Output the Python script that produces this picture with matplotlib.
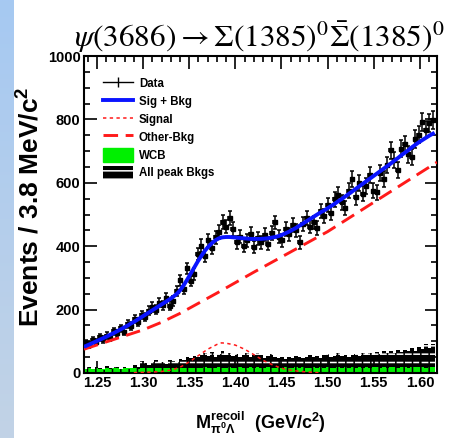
import numpy as np
import matplotlib.pyplot as plt
from matplotlib.lines import Line2D
from matplotlib.patches import Patch
from matplotlib.ticker import MultipleLocator

plt.rcParams['font.family'] = ['Liberation Sans', 'DejaVu Sans']
plt.rcParams['mathtext.fontset'] = 'custom'
plt.rcParams['mathtext.rm'] = 'Liberation Sans:bold'
plt.rcParams['mathtext.it'] = 'Liberation Sans:bold'
plt.rcParams['mathtext.bf'] = 'Liberation Sans:bold'
plt.rcParams['hatch.linewidth'] = 1.1

# ── binning: 100 bins of 3.8 MeV ─────────────────────────────
x_lo, x_hi = 1.236, 1.6185
bin_w = 0.0038
n_bins = 100

# ── data (events per bin) ───────────────────────────────────
data = [95, 88, 104, 98, 112, 106, 118, 110, 132, 125,
        141, 130, 155, 148, 170, 162, 183, 176, 196, 208,
        199, 222, 214, 236, 212, 228, 258, 292, 266, 330,
        290, 312, 375, 402, 368, 418, 395, 428, 445, 476,
        462, 488, 455, 412, 430, 402, 418, 440, 398, 425,
        412, 436, 408, 442, 475, 430, 418, 455, 438, 468,
        450, 412, 470, 488, 462, 475, 458, 510, 495, 530,
        505, 548, 562, 538, 520, 575, 612, 555, 600, 565,
        590, 625, 575, 570, 630, 612, 655, 702, 672, 640,
        708, 722, 690, 682, 738, 752, 792, 768, 788, 798]

# ── total fit (Sig + Bkg) at bin centres ─────────────────────
fit_total = [85, 90, 95, 100, 105, 110, 115, 121, 126, 132,
             138, 144, 150, 157, 163, 170, 177, 184, 191, 198,
             205, 212, 219, 226, 233, 241, 250, 262, 278, 296,
             315, 334, 353, 370, 386, 399, 410, 419, 425, 428,
             429, 429, 428, 427, 426, 425, 424, 423, 423, 423,
             423, 424, 425, 427, 429, 432, 436, 441, 446, 452,
             458, 465, 472, 479, 486, 493, 500, 507, 513, 520,
             527, 534, 542, 549, 557, 565, 573, 581, 589, 597,
             605, 613, 621, 629, 637, 645, 653, 661, 670, 678,
             687, 695, 703, 712, 720, 728, 735, 742, 749, 755]

# ── other background ────────────────────────────────────────
bkg_x = [1.236, 1.26, 1.28, 1.30, 1.32, 1.34, 1.36, 1.38, 1.40, 1.42,
         1.44, 1.46, 1.48, 1.50, 1.52, 1.54, 1.56, 1.58, 1.60, 1.6185]
bkg_y = [75, 98, 117, 136, 160, 188, 220, 252, 285, 318,
         350, 382, 414, 446, 483, 520, 557, 594, 631, 665]

# ── signal shape ────────────────────────────────────────────
sig_x = [1.29, 1.30, 1.31, 1.32, 1.33, 1.34, 1.35, 1.36, 1.37, 1.38, 1.385,
         1.39, 1.40, 1.41, 1.42, 1.43, 1.44, 1.45, 1.46, 1.47, 1.48, 1.49]
sig_y = [1, 2, 3, 5, 9, 18, 35, 55, 75, 90, 95,
         94, 88, 75, 58, 40, 26, 15, 9, 5, 3, 1]

# ── peaking backgrounds (stacked total) and WCB ──────────────
peak_bkg = [14, 18, 12, 20, 16, 10, 22, 15, 12, 18, 14, 20, 12, 16, 24, 18,
            38, 30, 26, 34, 40, 32, 36, 28, 42, 38, 34,
            45, 40, 52, 48, 55, 50, 58, 62, 55, 65, 52, 60, 68, 58, 62, 55,
            60, 52, 58, 64, 50, 56, 62, 58, 48, 54, 60, 52, 46,
            50, 44, 52, 48, 55, 50, 46, 52, 58, 50, 54, 48, 56, 60, 52, 55,
            62, 54, 58, 50, 56, 60, 54, 62, 58,
            64, 58, 66, 60, 70, 64, 68, 62, 72, 66, 74, 68, 78, 70, 82, 76,
            90, 80, 92]
wcb = [14, 15, 13, 15, 14, 13, 15, 14, 15, 16, 14, 15, 15, 16, 15, 14,
       16, 15, 17, 16, 15, 17, 16, 15, 17, 16, 15, 17, 16, 17, 15, 16,
       17, 16, 18, 17, 16, 17, 18, 16, 17, 18, 16, 17, 18, 17, 16, 18,
       17, 18, 16, 17, 18, 17, 16, 18, 17, 18, 17, 16, 18, 17, 18, 17,
       16, 18, 17, 18, 17, 18, 16, 17, 18, 17, 18, 17, 18, 16, 18, 17,
       18, 17, 18, 19, 17, 18, 17, 19, 18, 17, 19, 18, 17, 19, 18, 19,
       18, 17, 19, 18]

edges = x_lo + bin_w * np.arange(n_bins + 1)
centres = 0.5 * (edges[:-1] + edges[1:])
data = np.array(data, dtype=float)

RED = '#ff1a1a'
BLUE = '#0a14ff'
GREEN = '#00f000'

# ── canvas ──────────────────────────────────────────────────
fig = plt.figure(figsize=(4.56, 4.38), dpi=100, facecolor='white')

# slide strip on the left edge
ax_strip = fig.add_axes([0, 0, 14 / 456, 1])
grad = np.linspace(0, 1, 256).reshape(-1, 1)
strip_cmap = plt.matplotlib.colors.LinearSegmentedColormap.from_list(
    'strip', ['#a6c9f2', '#c2d3e6'])
ax_strip.imshow(grad, aspect='auto', cmap=strip_cmap, extent=[0, 1, 0, 1])
ax_strip.axis('off')

ax = fig.add_axes([84 / 456, 65 / 438, 353 / 456, 317 / 438])

ax.stairs(peak_bkg, edges, fill=True, facecolor='black', edgecolor='white',
          hatch='--', linewidth=0, zorder=1)
ax.stairs(wcb, edges, fill=True, color=GREEN, linewidth=0, zorder=2)
ax.stairs(peak_bkg, edges, fill=True, facecolor='none', edgecolor='black',
          hatch='||', linewidth=0, zorder=2.5)

ax.errorbar(centres, data, yerr=np.sqrt(data), xerr=bin_w / 2, fmt='s',
            ms=2.8, color='black', ecolor='black', elinewidth=1.1,
            capsize=1.6, capthick=1.1, zorder=3)

ax.plot(bkg_x, bkg_y, color=RED, lw=2.1, dashes=(5, 2.6), zorder=4)
ax.plot(sig_x, sig_y, color=RED, lw=1.1, dashes=(2.2, 2.2), zorder=4)
ax.plot(centres, fit_total, color=BLUE, lw=2.8, zorder=5)

ax.set_xlim(x_lo, x_hi)
ax.set_ylim(0, 1000)
ax.xaxis.set_major_locator(MultipleLocator(0.05))
ax.xaxis.set_minor_locator(MultipleLocator(0.01))
ax.yaxis.set_major_locator(MultipleLocator(200))
ax.yaxis.set_minor_locator(MultipleLocator(50))
ax.xaxis.set_major_formatter(plt.FuncFormatter(lambda v, p: f'{v:.2f}'))
ax.tick_params(which='both', direction='in', top=True, right=True,
               width=1.2, labelsize=10.5, colors='black')
ax.tick_params(which='major', length=9, pad=2.5)
ax.tick_params(which='minor', length=4.5)
for lab in ax.get_xticklabels() + ax.get_yticklabels():
    lab.set_fontweight('bold')
for s in ax.spines.values():
    s.set_linewidth(1.5)

handles = [
    Line2D([], [], color='black', lw=1.0, marker='|', ms=7, mew=1.0),
    Line2D([], [], color=BLUE, lw=2.8),
    Line2D([], [], color=RED, lw=1.1, dashes=(2.2, 2.2)),
    Line2D([], [], color=RED, lw=2.1, dashes=(5, 2.6)),
    Patch(facecolor=GREEN, edgecolor=GREEN),
    Patch(facecolor='black', edgecolor='white', hatch='--', lw=0),
]
labels = ['Data', 'Sig + Bkg', 'Signal', 'Other-Bkg', 'WCB', 'All peak Bkgs']
ax.legend(handles, labels, loc='upper left', bbox_to_anchor=(0.054, 0.935),
          frameon=False, prop={'weight': 'bold', 'size': 8.3},
          handlelength=2.6, handleheight=1.45, labelspacing=0.36,
          handletextpad=0.5, borderpad=0, borderaxespad=0)

# ── titles and axis labels ──────────────────────────────────
fig.text(74 / 456, 1 - 47 / 438,
         r'$\psi(3686)\rightarrow\Sigma(1385)^{0}\bar{\Sigma}(1385)^{0}$',
         math_fontfamily='stix', fontsize=22.5, ha='left', va='baseline')
fig.text(31 / 456, 1 - 207 / 438, 'Events / 3.8 MeV/c$^{2}$',
         rotation=90, ha='center', va='center', fontsize=19,
         fontweight='bold')
fig.text(260 / 456, 9 / 438,
         r'M$^{\mathrm{recoil}}_{\pi^{0}\Lambda}$  (GeV/c$^{2}$)',
         ha='center', va='baseline', fontsize=13, fontweight='bold')

fig.savefig('out.png', dpi=100, facecolor=fig.get_facecolor())
